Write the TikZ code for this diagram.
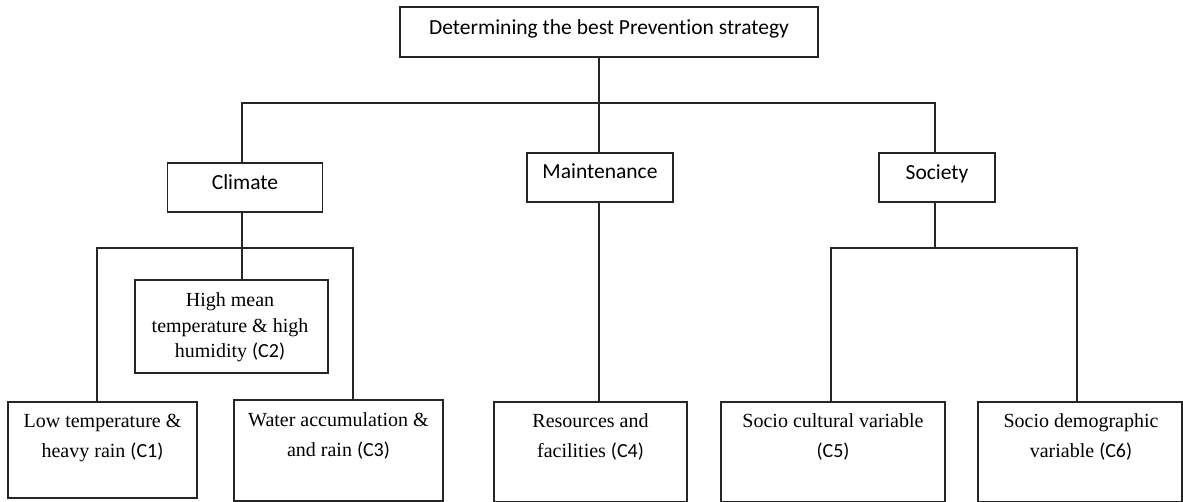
\documentclass[tikz,border=0pt]{standalone}
\usepackage{fontspec}
\setmainfont{Liberation Serif}
\newfontfamily\calib[Ligatures={NoCommon,NoRare}]{Carlito}
\begin{document}
\begin{tikzpicture}[x=1pt,y=-1pt,
  box/.style={draw=black!85,line width=1.4pt,rectangle,inner sep=0pt,outer sep=0pt},
  conn/.style={draw=black!85,line width=1.4pt},
  ctext/.style={anchor=base,inner sep=0pt,font=\calib\fontsize{21.5}{25}\selectfont},
  stext/.style={anchor=base,inner sep=0pt,font=\fontsize{20}{24}\selectfont}]
\useasboundingbox (0,0) rectangle (1183,502);
% boxes
\node[box,minimum width=418pt,minimum height=50pt] (top) at (609,32) {};
\node[box,minimum width=155pt,minimum height=49pt] (climate) at (245,187.5) {};
\node[box,minimum width=146pt,minimum height=49pt] (maint) at (600,177.5) {};
\node[box,minimum width=116pt,minimum height=49pt] (society) at (937,177.5) {};
\node[box,minimum width=193pt,minimum height=93pt] (c2) at (231.5,326.5) {};
\node[box,minimum width=189pt,minimum height=96pt] (c1) at (102.5,450) {};
\node[box,minimum width=209pt,minimum height=101pt] (c3) at (338.5,450.5) {};
\node[box,minimum width=193pt,minimum height=100pt] (c4) at (590.5,452) {};
\node[box,minimum width=224pt,minimum height=100pt] (c5) at (833,452) {};
\node[box,minimum width=204pt,minimum height=100pt] (c6) at (1080,452) {};
% texts
\node[ctext] (ttop) at (609,35) {Determining the best Prevention strategy};
\node[ctext] (tclimate) at (245,190) {Climate};
\node[ctext] (tmaint) at (600,179) {Maintenance};
\node[ctext] (tsociety) at (937,180) {Society};
\node[stext] (t2a) at (230,307) {High mean};
\node[stext] (t2b) at (230,332.5) {temperature \& high};
\node[stext] (t2c) at (230,358) {humidity {\calib(C2)}};
\node[stext] (t1a) at (102.5,427) {Low temperature \&};
\node[stext] (t1b) at (102.5,457) {heavy rain {\calib(C1)}};
\node[stext] (t3a) at (338.5,426) {Water accumulation \&};
\node[stext] (t3b) at (338.5,456) {and rain {\calib(C3)}};
\node[stext] (t4a) at (590.5,427) {Resources and};
\node[stext] (t4b) at (590.5,457) {facilities {\calib(C4)}};
\node[stext] (t5a) at (833,427) {Socio cultural variable};
\node[stext] (t5b) at (833,457) {{\calib(C5)}};
\node[stext] (t6a) at (1081,427) {Socio demographic};
\node[stext] (t6b) at (1081,457) {variable {\calib(C6)}};
% junctions
\coordinate (j0) at (599,103);
\coordinate (hL) at (242,103);
\coordinate (hR) at (935,103);
\coordinate (cl) at (242,248);
\coordinate (clL) at (97,248);
\coordinate (clR) at (353,248);
\coordinate (so) at (935,248);
\coordinate (soL) at (831,248);
\coordinate (soR) at (1077,248);
% connectors
\draw[conn] (j0 |- top.south) -- (j0);
\draw[conn] (hL |- climate.north) -- (hL) -- (hR) -- (hR |- society.north);
\draw[conn] (j0) -- (j0 |- maint.north);
\draw[conn] (cl |- climate.south) -- (cl) -- (cl |- c2.north);
\draw[conn] (clL |- c1.north) -- (clL) -- (clR) -- (clR |- c3.north);
\draw[conn] (j0 |- maint.south) -- (j0 |- c4.north);
\draw[conn] (so |- society.south) -- (so);
\draw[conn] (soL |- c5.north) -- (soL) -- (soR) -- (soR |- c6.north);
\end{tikzpicture}
\end{document}
